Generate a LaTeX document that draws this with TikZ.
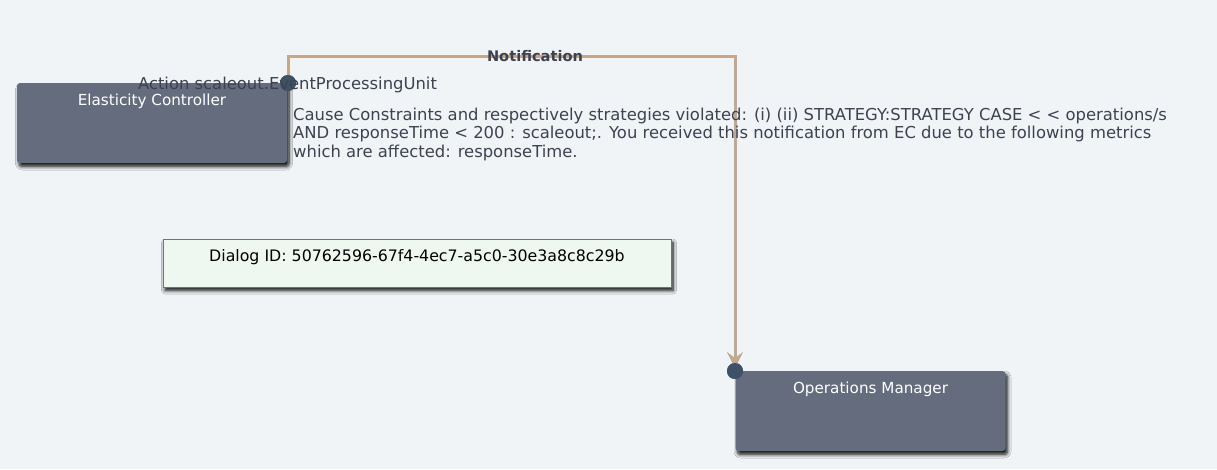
\documentclass[tikz,border=0pt]{standalone}
\usepackage{fontspec}
\setmainfont{DejaVu Sans}
\usetikzlibrary{shadows.blur,arrows.meta}
\definecolor{bg}{HTML}{F1F4F7}
\definecolor{boxfill}{HTML}{646C7E}
\definecolor{dotc}{HTML}{3F5166}
\definecolor{linec}{HTML}{C2A88E}
\definecolor{txt}{HTML}{3D4250}
\definecolor{dlgfill}{HTML}{EEF8F1}
\definecolor{dlgborder}{HTML}{6E737C}
\tikzset{
  actor/.style={fill=boxfill, rounded corners=3pt, minimum width=270pt, minimum height=80pt, inner sep=0pt,
    blur shadow={shadow xshift=2pt, shadow yshift=-3.5pt, shadow blur radius=3.5pt, shadow blur steps=8, shadow opacity=95}},
  actorlabel/.style={text=white, font=\fontsize{15.2}{18}\selectfont, anchor=base, inner sep=0pt},
  dot/.style={circle, fill=dotc, minimum size=16pt, inner sep=0pt},
  conn/.style={draw=linec, line width=3pt, -{Stealth[length=16pt,width=16pt,inset=6pt]}},
  msg/.style={text=txt, font=\fontsize{16.4}{18.3}\selectfont, inner sep=0pt},
  dialog/.style={fill=dlgfill, draw=dlgborder, line width=1pt, minimum width=508pt, minimum height=48pt, inner sep=0pt,
    blur shadow={shadow xshift=2pt, shadow yshift=-3.5pt, shadow blur radius=3.5pt, shadow blur steps=8, shadow opacity=95}},
}
\begin{document}
\begin{tikzpicture}[x=1pt,y=-1pt]
\fill[bg] (0,0) rectangle (1217,469);
\useasboundingbox (0,0) rectangle (1217,469);
\node[actor] (ec) at (152,123) {};
\node[actorlabel] (ectext) at (152,105) {Elasticity Controller};
\node[actor] (om) at (870.5,411) {};
\node[actorlabel] (omtext) at (870.5,393) {Operations Manager};
\node[dialog] (dlg) at (417,263) {};
\node[msg, text=black, font=\fontsize{15.8}{18}\selectfont, anchor=base] (dlgtext) at (417,261.5) {Dialog ID: 50762596-67f4-4ec7-a5c0-30e3a8c8c29b};
\coordinate (b1) at (288,56);
\coordinate (b2) at (735,56);
\node[dot] (ecdot) at (288,83) {};
\node[dot] (omdot) at (735,371) {};
\draw[conn] (ecdot.center) -- (b1) -- (b2) -- ([yshift=3pt]omdot.center);
\node[dot] at (ecdot) {};
\node[dot] at (omdot) {};
\node[msg, font=\bfseries\fontsize{14.6}{16}\selectfont, anchor=base] (notif) at (535,61) {Notification};
\node[msg, anchor=base] (action) at (287.5,89.5) {Action scaleout.EventProcessingUnit};
\node[msg, anchor=base west, align=left] (cause) at (293,157) {Cause Constraints and respectively strategies violated: (i) (ii) STRATEGY:STRATEGY CASE < < operations/s\\AND responseTime < 200 : scaleout;. You received this notification from EC due to the following metrics\\which are affected: responseTime.};
\end{tikzpicture}
\end{document}
